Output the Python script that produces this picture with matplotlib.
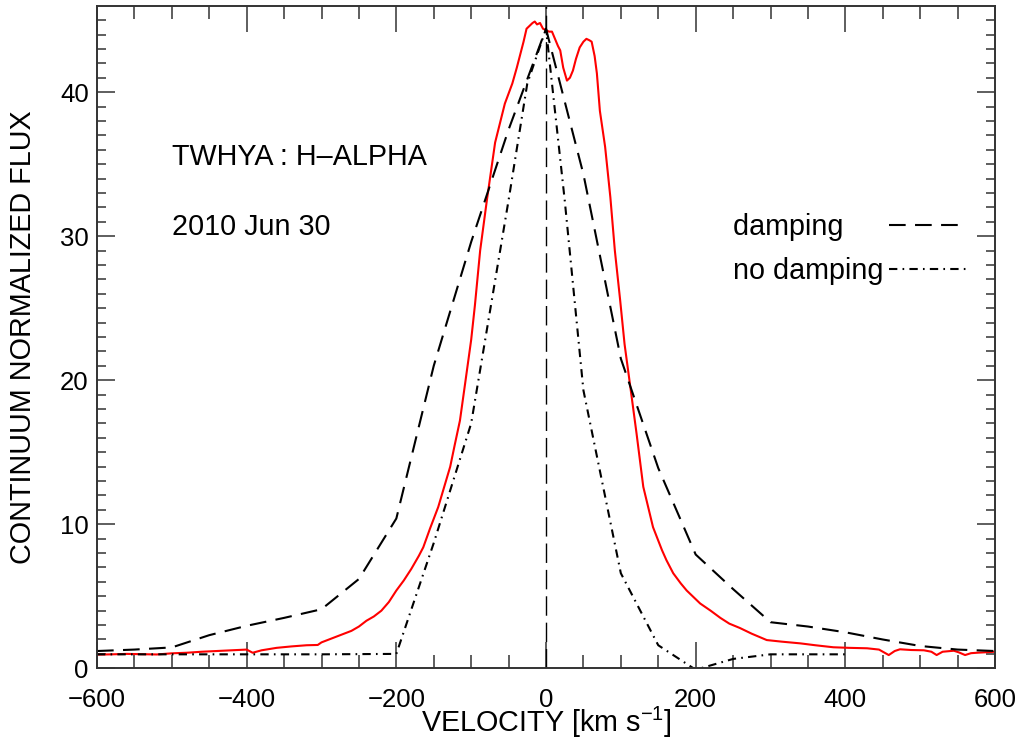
import numpy as np
import matplotlib.pyplot as plt

plt.rcParams['font.family'] = ['Liberation Sans', 'DejaVu Sans']
plt.rcParams['mathtext.fontset'] = 'custom'
plt.rcParams['mathtext.rm'] = 'Liberation Sans'
plt.rcParams['mathtext.it'] = 'Liberation Sans'

# observed H-alpha profile (red)
v_obs = [-600, -580, -560, -540, -520, -500, -480, -460, -440, -420, -400, -392, -380, -360,
         -340, -320, -305, -300, -280, -260, -250, -240, -230, -220, -210, -200, -190, -180,
         -170, -164, -155, -144, -136, -128, -122, -115, -108, -100, -95, -88, -79, -68, -55,
         -45, -39, -30, -26, -22, -18, -15, -12, -8, -4, 0, 4, 8, 12, 16, 19, 23, 28, 32, 36,
         40, 45, 50, 54, 58, 61, 65, 68, 72, 79, 86, 92, 99, 105, 112, 121, 130, 143, 155, 161,
         170, 180, 188, 206, 220, 233, 245, 259, 275, 295, 315, 340, 360, 384, 405, 429, 445,
         458, 466, 473, 488, 505, 515, 522, 530, 545, 552, 560, 568, 576, 590, 600]
f_obs = [0.95, 0.97, 1.0, 0.98, 0.96, 1.04, 1.08, 1.15, 1.2, 1.25, 1.3, 1.08, 1.25, 1.42,
         1.52, 1.6, 1.62, 1.8, 2.2, 2.6, 2.9, 3.3, 3.6, 4.0, 4.6, 5.4, 6.1, 6.9,
         7.8, 8.4, 9.7, 11.2, 12.6, 14.0, 15.5, 17.2, 19.8, 22.8, 25.2, 29.0, 32.5, 36.5, 39.2,
         40.6, 41.7, 43.5, 44.4, 44.6, 44.8, 44.9, 44.7, 44.8, 44.4, 44.3, 44.2, 44.2, 43.7, 43.2, 42.9, 41.7, 40.8, 41.0, 41.5,
         42.3, 43.1, 43.5, 43.7, 43.6, 43.5, 42.5, 41.3, 38.7, 36.2, 32.7, 29.0, 25.6, 22.5, 19.8, 16.3, 12.6, 9.8, 8.2, 7.5,
         6.6, 5.9, 5.4, 4.5, 4.0, 3.5, 3.1, 2.8, 2.4, 1.96, 1.85, 1.73, 1.6, 1.46, 1.42, 1.39, 1.3,
         0.92, 1.2, 1.32, 1.27, 1.25, 1.15, 0.92, 1.15, 1.22, 1.1, 0.92, 1.05, 1.08, 1.12, 1.15]

# model with damping (dashed)
v_damp = [-600, -550, -500, -450, -400, -350, -300, -250, -200, -150, -100, -50, 0,
          50, 100, 150, 200, 250, 300, 350, 400, 450, 500, 550, 600]
f_damp = [1.2, 1.3, 1.45, 2.3, 2.95, 3.5, 4.1, 6.2, 10.4, 21.0, 29.6, 37.4, 44.4,
          34.3, 21.5, 13.9, 7.9, 5.5, 3.2, 2.9, 2.5, 2.0, 1.55, 1.3, 1.2]

# model without damping (dash-dot)
v_nodamp = [-600, -500, -400, -300, -200, -150, -100, -50, -25, 0, 25, 50, 100, 150, 200, 250, 300, 350, 400]
f_nodamp = [0.97, 0.97, 0.97, 0.97, 1.0, 8.7, 17.0, 32.5, 40.6, 44.4, 32.5, 19.3, 6.6, 1.6, -0.1, 0.65, 0.97, 0.97, 0.97]

fig = plt.figure(figsize=(10.23, 7.44), dpi=100)
ax = fig.add_axes([97/1023, 1 - 668.3/744, 898/1023, 662.6/744])

ax.plot(v_obs, f_obs, color='red', lw=1.5)
ax.plot(v_damp, f_damp, color='black', lw=1.5, dashes=(8, 4.5), label='damping     ')
ax.plot(v_nodamp, f_nodamp, color='black', lw=1.5, dashes=(4, 2.5, 0.8, 2.5), label='no damping')
ax.axvline(0, color='black', lw=1.0, dashes=(14, 5))

ax.set_xlim(-600, 600)
ax.set_ylim(0, 46)
ax.set_xticks(np.arange(-600, 601, 200))
ax.set_xticks(np.arange(-600, 601, 50), minor=True)
ax.set_yticks(np.arange(0, 41, 10))
ax.set_yticks(np.arange(0, 46, 1), minor=True)
ax.tick_params(axis='both', which='both', direction='in', top=True, right=True,
               labelsize=18.5, width=1.1, color='#333333')
ax.tick_params(axis='x', which='major', length=18.5, pad=14.5)
ax.tick_params(axis='x', which='minor', length=9.3)
ax.tick_params(axis='y', which='major', length=13, pad=6)
ax.tick_params(axis='y', which='minor', length=6.5)
for s in ax.spines.values():
    s.set_linewidth(1.4)
    s.set_color('#333333')

ax.set_xlabel('VELOCITY [km s$^{-1}$]', fontsize=20.7, va='center')
ax.xaxis.set_label_coords(0.5, (668.3 - 722) / 662.6)
ax.set_ylabel('CONTINUUM NORMALIZED FLUX', fontsize=20.7, va='center')
ax.yaxis.set_label_coords((23.5 - 97) / 898, 0.5)

ax.text(0.0835, (668.3 - 157) / 662.6, 'TWHYA : H\u2013ALPHA', transform=ax.transAxes,
        fontsize=20.7, va='center', ha='left')
ax.text(0.0835, (668.3 - 227) / 662.6, '2010 Jun 30', transform=ax.transAxes,
        fontsize=20.7, va='center', ha='left')

ax.legend(loc='upper left', bbox_to_anchor=(0.708, (668.3 - 213) / 662.6), frameon=False,
          markerfirst=False, fontsize=20.7, handlelength=2.7, handletextpad=0.2,
          labelspacing=0.56, borderpad=0, borderaxespad=0)

fig.savefig('out.png', dpi=100)
